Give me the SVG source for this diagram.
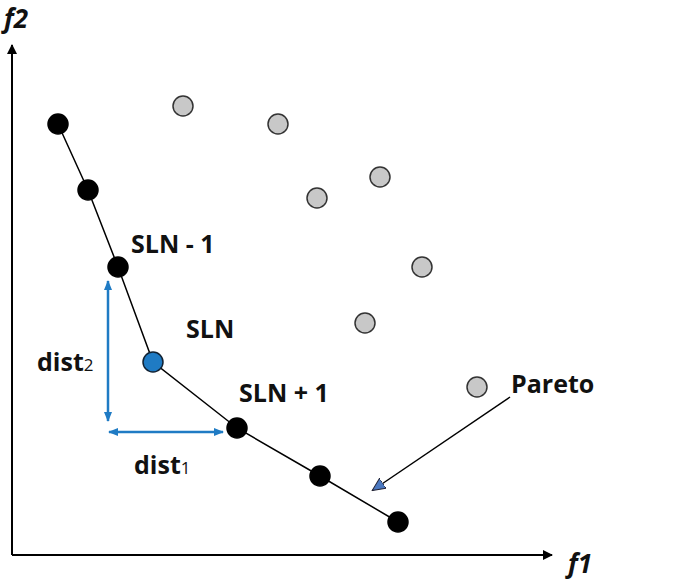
<svg xmlns="http://www.w3.org/2000/svg" width="685" height="580" viewBox="0 0 685 580">
<style>
text{font-family:"Open Sans","Liberation Sans",sans-serif;font-weight:bold;font-size:25px;fill:#111}
.ax{font-style:italic;font-size:26px}
.b{fill:#000;stroke:#000;stroke-width:1.5}
.g{fill:#c8c8c8;stroke:#333;stroke-width:1.5}
.bl{stroke:#1f7bc4;stroke-width:2.5;fill:none}
</style>
<defs>
<marker id="ah" markerWidth="10" markerHeight="10" refX="9" refY="5" orient="auto" markerUnits="userSpaceOnUse"><path d="M0,0L10,5L0,10z" fill="#000"/></marker>
<marker id="bh" markerWidth="10" markerHeight="10" refX="9" refY="5" orient="auto-start-reverse" markerUnits="userSpaceOnUse"><path d="M0,1L10,5L0,9z" fill="#1f7bc4"/></marker>
<marker id="ph" markerWidth="14" markerHeight="14" refX="12" refY="7" orient="auto" markerUnits="userSpaceOnUse"><path d="M0,1L13,7L0,13z" fill="#4a78c0" stroke="#223" stroke-width="1"/></marker>
</defs>
<g id="connectors">
<path d="M12,555V45" stroke="#000" stroke-width="2" marker-end="url(#ah)"/>
<path d="M12,555H552" stroke="#000" stroke-width="2" marker-end="url(#ah)"/>
<polyline points="58,124 88,190 118,267 153,362 237,428 320,476 398,522" fill="none" stroke="#000" stroke-width="1.5"/>
<path class="bl" d="M108,281V421" marker-start="url(#bh)" marker-end="url(#bh)"/>
<path class="bl" d="M109,432H223" marker-start="url(#bh)" marker-end="url(#bh)"/>
<path d="M510,397L373,490" stroke="#000" stroke-width="1.5" marker-end="url(#ph)"/>
</g>
<g id="pareto-points">
<circle class="b" cx="58" cy="124" r="10"/><circle class="b" cx="88" cy="190" r="10"/>
<circle class="b" cx="118" cy="267" r="10"/>
<circle cx="153" cy="362" r="10" fill="#1f7bc4" stroke="#123" stroke-width="1.5"/>
<circle class="b" cx="237" cy="428" r="10"/><circle class="b" cx="320" cy="476" r="10"/>
<circle class="b" cx="398" cy="522" r="10"/>
</g>
<g id="dominated-points">
<circle class="g" cx="183" cy="106" r="10"/><circle class="g" cx="278" cy="124" r="10"/>
<circle class="g" cx="380" cy="177" r="10"/><circle class="g" cx="317" cy="198" r="10"/>
<circle class="g" cx="422" cy="267" r="10"/><circle class="g" cx="365" cy="323" r="10"/>
<circle class="g" cx="477" cy="387" r="10"/>
</g>
<g id="labels">
<text class="ax" x="4" y="28">f2</text>
<text class="ax" x="568" y="573">f1</text>
<text x="131" y="253">SLN - 1</text>
<text x="186" y="338">SLN</text>
<text x="239" y="402">SLN + 1</text>
<text x="37" y="371">dist<tspan font-size="17" font-weight="normal">2</tspan></text>
<text x="134" y="474">dist<tspan font-size="17" font-weight="normal">1</tspan></text>
<text x="511" y="393">Pareto</text>
</g>
</svg>
